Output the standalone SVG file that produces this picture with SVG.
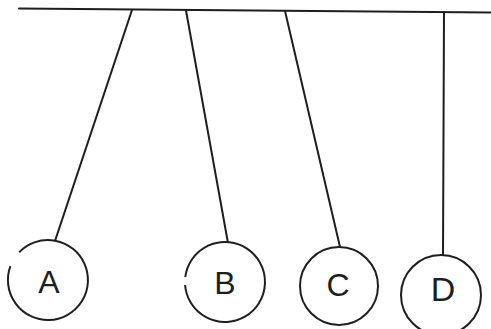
<svg xmlns="http://www.w3.org/2000/svg" width="491" height="329" viewBox="0 0 491 329">
<style>
.ln{stroke:#1e1e1e;stroke-width:2;fill:none;stroke-linecap:round}
.ball{stroke:#1e1e1e;stroke-width:2;fill:#fff}
.lbl{font-family:"Liberation Sans",Arial,sans-serif;font-size:32px;fill:#1e1e1e;text-anchor:middle}
</style>
<rect width="491" height="329" fill="#fff"/>
<g id="connectors">
<line class="ln" x1="19" y1="8.5" x2="491" y2="12.5"/>
<line class="ln" x1="132" y1="10" x2="55" y2="241"/>
<line class="ln" x1="186" y1="10.5" x2="228" y2="243"/>
<line class="ln" x1="285" y1="11" x2="340" y2="247"/>
<line class="ln" x1="444" y1="12" x2="443" y2="255"/>
</g>
<g id="A"><path class="ball" d="M 10.4 266.2 A 40 40 0 1 0 19.2 252.2"/><text class="lbl" x="49" y="293">A</text></g>
<g id="B"><path class="ball" d="M 185.1 285 A 40 40 0 1 0 185.3 277"/><text class="lbl" x="225" y="294">B</text></g>
<g id="C"><circle class="ball" cx="339" cy="286" r="39"/><text class="lbl" x="338" y="296">C</text></g>
<g id="D"><circle class="ball" cx="441" cy="295" r="40"/><text class="lbl" x="443" y="301" style="font-size:34px">D</text></g>
</svg>
